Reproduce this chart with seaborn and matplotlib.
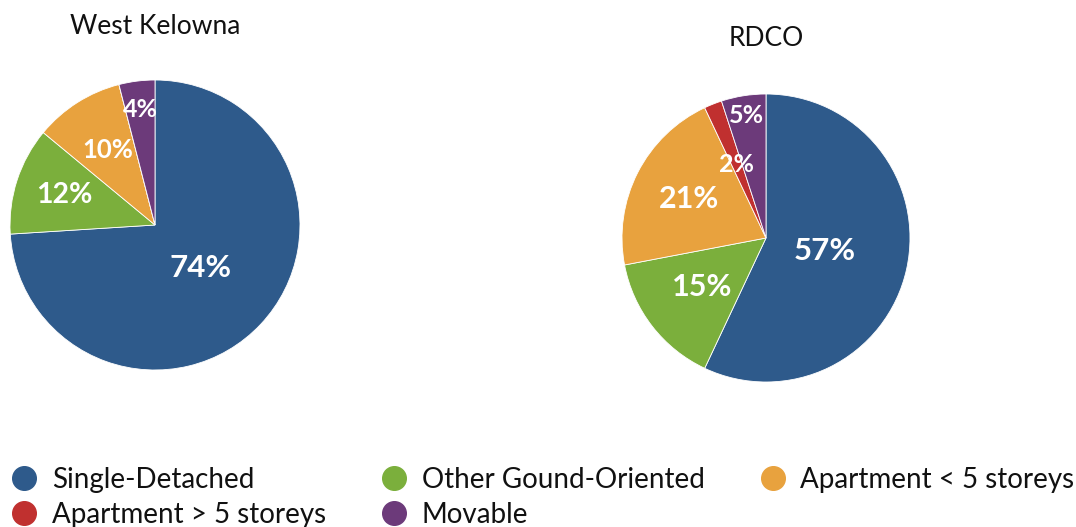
import matplotlib
matplotlib.use("Agg")
import matplotlib.pyplot as plt
from matplotlib.lines import Line2D
import numpy as np
import seaborn as sns

categories = ["Single-Detached", "Other Gound-Oriented", "Apartment < 5 storeys",
              "Apartment > 5 storeys", "Movable"]
west_kelowna = [74, 12, 10, 0, 4]
rdco = [57, 15, 21, 2, 5]
titles = ["West Kelowna", "RDCO"]

colors = ["#2E5A8B", "#7BAF3C", "#E8A23E", "#C0302F", "#6C3A7A"]

sns.set_theme(style="white")
plt.rcParams['font.family'] = ['Lato', 'DejaVu Sans']
palette = sns.color_palette(colors)

W, H = 1076, 527
fig = plt.figure(figsize=(W / 100, H / 100), dpi=100)

def add_pie_axes(cx, cy, r):
    return fig.add_axes([(cx - r) / W, (H - cy - r) / H, 2 * r / W, 2 * r / H])

specs = [
    dict(values=west_kelowna, center=(155, 225), r=145,
         lab_r=[0.43, 0.66, 0.61, 0.6, 0.8], lab_fs=[22.5, 20.5, 18.5, 18, 18],
         title_y=27),
    dict(values=rdco, center=(766, 238), r=144,
         lab_r=[0.42, 0.56, 0.6, 0.55, 0.86], lab_fs=[22.5, 22, 22, 18, 18],
         title_y=38),
]

for spec, title in zip(specs, titles):
    ax = add_pie_axes(*spec["center"], spec["r"])
    wedges, _ = ax.pie(spec["values"], colors=palette, startangle=90, counterclock=False,
                       radius=1.0, wedgeprops=dict(edgecolor="white", linewidth=0.6))
    ax.set_xlim(-1, 1)
    ax.set_ylim(-1, 1)
    ax.set_aspect("equal")
    ax.axis("off")
    for w, v, rr, fs in zip(wedges, spec["values"], spec["lab_r"], spec["lab_fs"]):
        if v <= 0:
            continue
        mid = np.deg2rad((w.theta1 + w.theta2) / 2)
        ax.text(rr * np.cos(mid), rr * np.sin(mid), f"{v}%", ha="center", va="center",
                color="white", fontsize=fs, fontweight="bold")
    fig.text(spec["center"][0] / W, 1 - spec["title_y"] / H, title, ha="center", va="center",
             fontsize=19, color="#111111")

order = [0, 3, 1, 4, 2]
handles = [Line2D([], [], marker="o", linestyle="none", markersize=17,
                  markerfacecolor=colors[i], markeredgecolor=colors[i]) for i in order]
labels = [categories[i] for i in order]
fig.legend(handles, labels, ncol=3, loc="upper left",
           bbox_to_anchor=(10 / W, 1 - 467 / H),
           frameon=False, fontsize=20, handletextpad=0.5, columnspacing=1.95,
           labelspacing=0.33, borderaxespad=0, borderpad=0.0, handlelength=1.0,
           labelcolor="#111111")

fig.savefig("out.png", dpi=100, facecolor="white")
